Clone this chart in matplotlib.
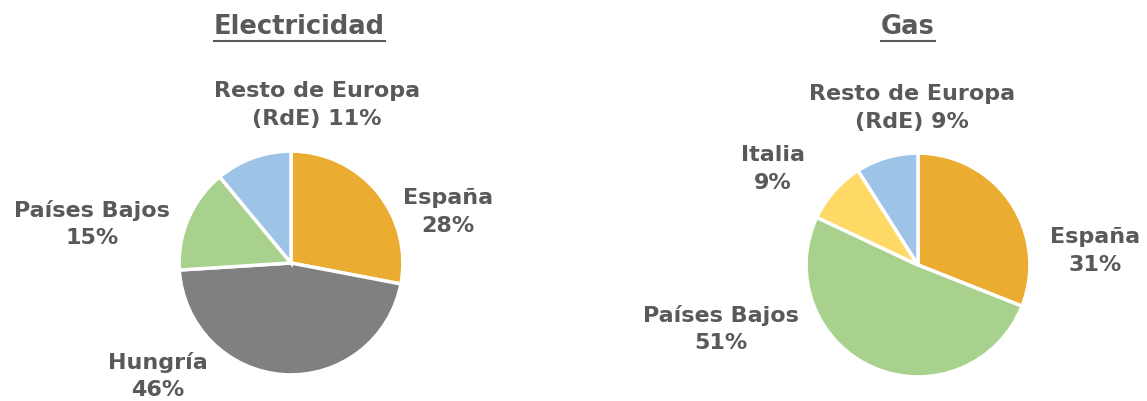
import numpy as np
import matplotlib
matplotlib.use("Agg")
from matplotlib import pyplot as plt
from matplotlib.lines import Line2D

W, H = 1147, 401
plt.rcParams.update({
    "font.family": "DejaVu Sans",
    "font.weight": "bold",
    "font.size": 16,
})

# data
elec_labels = ["España", "Hungría", "Países Bajos", "Resto de Europa\n(RdE)"]
elec_values = [28, 46, 15, 11]
gas_labels = ["España", "Países Bajos", "Italia", "Resto de Europa\n(RdE)"]
gas_values = [31, 51, 9, 9]

elec_colors = ["#EBAC32", "#808080", "#A9D18E", "#9DC3E6"]
gas_colors = ["#EBAC32", "#A9D18E", "#FFD966", "#9DC3E6"]
txt_color = "#595959"

# label centres in pixels (x, y from top)
elec_pos = [(448, 212), (158, 376), (92, 224), (317, 105)]
gas_pos = [(1095, 251), (721, 329), (773, 169), (912, 108)]
elec_fmt = ["{}\n{}%", "{}\n{}%", "{}\n{}%", "{} {}%"]
gas_fmt = ["{}\n{}%", "{}\n{}%", "{}\n{}%", "{} {}%"]

fig = plt.figure(figsize=(W / 100, H / 100), dpi=100)


def px_axes(cx, cy, r):
    return fig.add_axes([(cx - r) / W, 1 - (cy + r) / H, 2 * r / W, 2 * r / H])


def draw_pie(cx, cy, values, colors, labels, pos, fmt, title, tx):
    ax = px_axes(cx, cy, 113)
    ax.pie(values, colors=colors, startangle=90, counterclock=False,
           wedgeprops=dict(edgecolor="white", linewidth=2.5))
    ax.set_xlim(-1.01, 1.01)
    ax.set_ylim(-1.01, 1.01)
    ax.set_aspect("equal")
    ax.axis("off")
    for lab, v, (x, y), f in zip(labels, values, pos, fmt):
        fig.text(x / W, 1 - y / H, f.format(lab, v), ha="center", va="center",
                 color=txt_color, fontsize=16, fontweight="bold",
                 linespacing=1.45)
    t = fig.text(tx / W, 1 - 27 / H, title, ha="center", va="center",
                 color=txt_color, fontsize=18.5, fontweight="bold")
    fig.canvas.draw()
    bb = t.get_window_extent()
    yl = 1 - 41 / H
    fig.add_artist(Line2D([bb.x0 / W, bb.x1 / W], [yl, yl], color=txt_color,
                          linewidth=1.5))


draw_pie(291, 263, elec_values, elec_colors, elec_labels, elec_pos, elec_fmt,
         "Electricidad", 299)
draw_pie(918, 265, gas_values, gas_colors, gas_labels, gas_pos, gas_fmt,
         "Gas", 908)

fig.savefig("out.png", dpi=100, facecolor="white")
